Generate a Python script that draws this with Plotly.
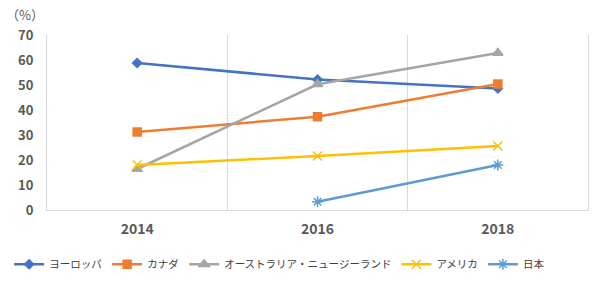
import plotly.graph_objects as go

years = ["2014", "2016", "2018"]
europe = [58.8, 52.2, 48.6]
canada = [31.2, 37.3, 50.4]
aus_nz = [16.4, 50.3, 62.8]
america = [18.0, 21.6, 25.6]
japan = [None, 3.3, 18.0]

names = ["ヨーロッパ", "カナダ", "オーストラリア・ニュージーランド", "アメリカ", "日本"]
series = [europe, canada, aus_nz, america, japan]
colors = ["#4472C4", "#ED7D31", "#A5A5A5", "#FFC000", "#5B9BD5"]
symbols = ["diamond", "square", "triangle-up", "x-thin", "asterisk"]
sizes = [7, 8, 9, 9, 9]

xpos = list(range(len(years)))
fig = go.Figure()
for n, s, c, sym, sz in zip(names, series, colors, symbols, sizes):
    fig.add_trace(go.Scatter(
        x=xpos, y=s, name=n, mode="lines+markers",
        line=dict(color=c, width=2.5),
        marker=dict(symbol=sym, size=sz, color=c, line=dict(color=c, width=1.5)),
        connectgaps=False,
    ))

fig.update_layout(
    width=600, height=282,
    margin=dict(l=47, r=12, t=35, b=72, autoexpand=False),
    paper_bgcolor="white", plot_bgcolor="white",
    font=dict(family="Noto Sans CJK JP", color="#595959"),
    showlegend=True,
    legend=dict(orientation="h", x=-0.07, y=-0.31, xanchor="left", yanchor="middle",
                font=dict(size=10.5, color="#404040"), itemwidth=30, tracegroupgap=0),
    xaxis=dict(
        range=[-0.5, 2.5], tickvals=xpos, ticktext=years, showgrid=False,
        showline=True, linecolor="#D9D9D9", linewidth=1, ticks="",
        tickfont=dict(size=14, color="#595959", family="Noto Sans CJK JP", weight="bold"),
        ticklabelstandoff=6,
        minor=dict(tickvals=[0.5, 1.5], showgrid=True, gridcolor="#D9D9D9", gridwidth=1),
        zeroline=False,
    ),
    yaxis=dict(
        range=[0, 70], dtick=10, showgrid=False, zeroline=False,
        showline=True, mirror=True, linecolor="#D9D9D9", linewidth=1,
        tickfont=dict(size=13, color="#595959", family="Noto Sans CJK JP", weight="bold"),
        ticklabelstandoff=10,
    ),
)
fig.add_annotation(text="（%）", x=-0.04, y=1.115, xref="paper", yref="paper",
                   xanchor="center", yanchor="middle", showarrow=False,
                   font=dict(size=13, color="#595959"))
fig.write_html("out.html")
